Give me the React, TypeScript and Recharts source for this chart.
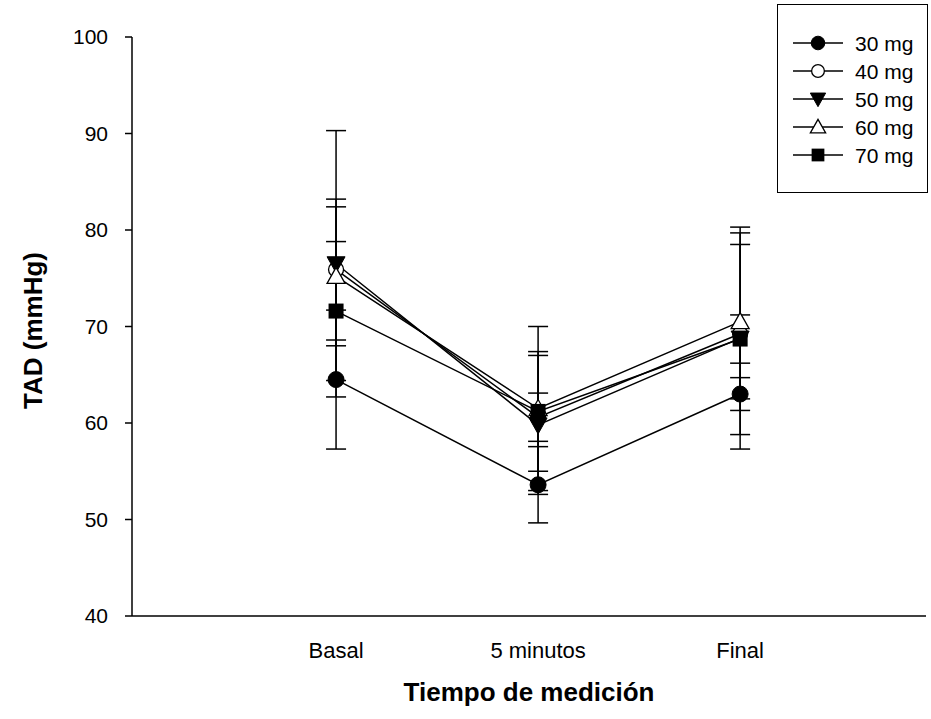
import React from 'react';
import { ComposedChart, Line, XAxis, YAxis, ErrorBar, Legend, Label } from 'recharts';

const categories = ['Basal', '5 minutos', 'Final'];
const xPositions = [1, 2, 3];
const seriesNames = ['30 mg', '40 mg', '50 mg', '60 mg', '70 mg'];
const yTicks = [40, 50, 60, 70, 80, 90, 100];

const mean30 = [64.5, 53.6, 63.0];
const err30 = [7.2, 3.95, 1.7];
const mean40 = [75.9, 60.6, 69.25];
const err40 = [7.3, 2.5, 10.45];
const mean50 = [76.5, 59.8, 68.8];
const err50 = [13.8, 7.2, 11.5];
const mean60 = [75.2, 61.5, 70.5];
const err60 = [7.2, 8.5, 8.0];
const mean70 = [71.6, 61.2, 68.7];
const err70 = [7.2, 6.2, 2.5];

const means = [mean30, mean40, mean50, mean60, mean70];
const errs = [err30, err40, err50, err60, err70];
const shapes = ['circle', 'openCircle', 'triDown', 'openTriUp', 'square'];
const keys = ['s30', 's40', 's50', 's60', 's70'];

const data = xPositions.map((x, i) => {
  const row: any = { x };
  keys.forEach((k, j) => {
    row[k] = means[j][i];
    row[k + 'e'] = errs[j][i];
  });
  return row;
});

const FONT = '"Liberation Sans", Arial, Helvetica, sans-serif';

function Marker({ cx, cy, shape, s = 1 }: { cx: number; cy: number; shape: string; s?: number }) {
  switch (shape) {
    case 'circle':
      return <circle cx={cx} cy={cy} r={8 * s} fill="#000" stroke="#000" strokeWidth={1} />;
    case 'openCircle':
      return <circle cx={cx} cy={cy} r={7.5 * s} fill="#fff" stroke="#000" strokeWidth={1.3} />;
    case 'triDown':
      return (
        <polygon
          points={`${cx - 9 * s},${cy - 7 * s} ${cx + 9 * s},${cy - 7 * s} ${cx},${cy + 9 * s}`}
          fill="#000"
          stroke="#000"
          strokeWidth={1}
        />
      );
    case 'openTriUp':
      return (
        <polygon
          points={`${cx},${cy - 9 * s} ${cx - 9 * s},${cy + 7 * s} ${cx + 9 * s},${cy + 7 * s}`}
          fill="#fff"
          stroke="#000"
          strokeWidth={1.3}
        />
      );
    default:
      return <rect x={cx - 7.5 * s} y={cy - 7.5 * s} width={15 * s} height={15 * s} fill="#000" />;
  }
}

const makeDot = (shape: string) => (props: any) => {
  const { cx, cy, index } = props;
  if (cx == null || cy == null) return <g key={`e-${shape}-${index}`} />;
  return (
    <g key={`d-${shape}-${index}`}>
      <Marker cx={cx} cy={cy} shape={shape} />
    </g>
  );
};

const LegendBox = () => (
  <div
    style={{
      width: 151,
      height: 189,
      border: '1.5px solid #000',
      boxSizing: 'border-box',
      background: '#fff',
      position: 'relative',
    }}
  >
    <svg width={151} height={189} style={{ position: 'absolute', left: -1.5, top: -1.5 }}>
      {seriesNames.map((n, i) => {
        const y = 39 + i * 28;
        return (
          <g key={n}>
            <line x1={16} x2={66} y1={y} y2={y} stroke="#000" strokeWidth={1.5} />
            <Marker cx={41} cy={y} shape={shapes[i]} s={0.85} />
            <text x={78} y={y} dominantBaseline="central" fontSize={21} fontFamily={FONT} fill="#000">
              {n}
            </text>
          </g>
        );
      })}
    </svg>
  </div>
);

const YTitle = (props: any) => {
  const vb = props.viewBox || { x: 0, y: 0, width: 0, height: 0 };
  const x = 33;
  const y = vb.y + vb.height / 2 + 4;
  return (
    <text
      x={x}
      y={y}
      transform={`rotate(-90 ${x} ${y})`}
      textAnchor="middle"
      dominantBaseline="central"
      fontSize={26}
      fontWeight="bold"
      fontFamily={FONT}
      fill="#000"
    >
      TAD (mmHg)
    </text>
  );
};

export default function App() {
  return (
    <div style={{ position: 'absolute', left: 0, top: 0, width: 931, height: 719, fontFamily: FONT, background: '#fff' }}>
      <ComposedChart
        width={931}
        height={719}
        data={data}
        margin={{ top: 37, right: 5, bottom: 0, left: 0 }}
      >
        <XAxis
          type="number"
          dataKey="x"
          domain={[-0.01, 3.92]}
          ticks={xPositions}
          tickFormatter={(v: number) => categories[v - 1] ?? ''}
          allowDataOverflow
          tickLine={false}
          tickSize={0}
          tickMargin={26}
          height={103}
          axisLine={{ stroke: '#000', strokeWidth: 1.5 }}
          tick={{ fill: '#000', fontSize: 22, fontFamily: FONT }}
        >
          <Label
            value="Tiempo de medición"
            position="insideBottom"
            offset={18}
            fill="#000"
            fontSize={26}
            fontWeight="bold"
            fontFamily={FONT}
          />
        </XAxis>
        <YAxis
          type="number"
          domain={[40, 100]}
          ticks={yTicks}
          allowDataOverflow
          width={132}
          tickSize={7}
          tickMargin={17}
          axisLine={{ stroke: '#000', strokeWidth: 1.5 }}
          tickLine={{ stroke: '#000', strokeWidth: 1.5 }}
          tick={{ fill: '#000', fontSize: 21, fontFamily: FONT }}
        >
          <Label content={YTitle} />
        </YAxis>
        {keys.map((k, j) => (
          <Line
            key={k}
            dataKey={k}
            name={seriesNames[j]}
            stroke="#000"
            strokeWidth={1.5}
            dot={makeDot(shapes[j])}
            activeDot={false}
            isAnimationActive={false}
          >
            <ErrorBar
              dataKey={k + 'e'}
              width={10}
              stroke="#000"
              strokeWidth={1.5}
              direction="y"
              isAnimationActive={false}
            />
          </Line>
        ))}
        <Legend
          content={LegendBox}
          layout="vertical"
          align="center"
          verticalAlign="middle"
          wrapperStyle={{ left: 777, top: 4, width: 151, height: 189 }}
        />
      </ComposedChart>
    </div>
  );
}
